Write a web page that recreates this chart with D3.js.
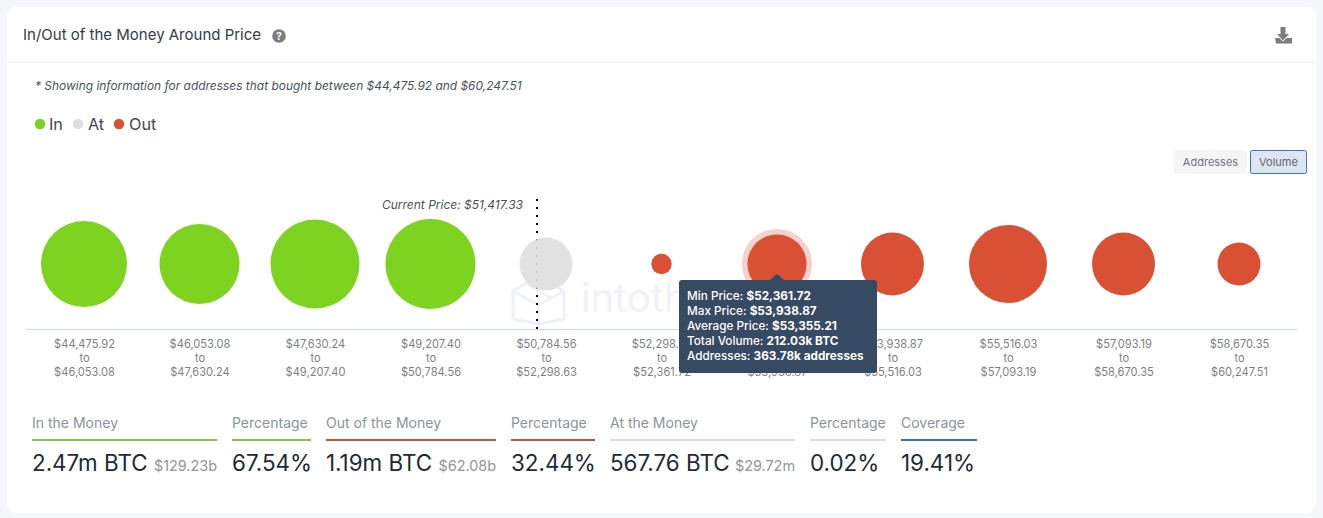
<!DOCTYPE html>
<html><head><meta charset="utf-8">
<script src="https://cdn.jsdelivr.net/npm/d3@7"></script>
<style>
html,body{margin:0;padding:0;background:#f5f7fb;overflow:hidden}
svg{display:block;font-family:Inter,"Noto Sans",sans-serif}
</style></head><body>
<svg id="c" width="1323" height="518"></svg>
<script>
const rangeEdges = ["$44,475.92","$46,053.08","$47,630.24","$49,207.40","$50,784.56","$52,298.63","$52,361.72","$53,938.87","$55,516.03","$57,093.19","$58,670.35","$60,247.51"];
const volumes = [599,490,659,680,156,11,212,252,457,252,87];
const states = ["in","in","in","in","at","out","out","out","out","out","out"];
const stateColors = {in:"#7ed321",at:"#dfdfdf",out:"#d95035"};
const legendLabels = [["In","in"],["At","at"],["Out","out"]];
const currentPrice = 51417.33;
const tooltipRows = [["Min Price: ","$52,361.72"],["Max Price: ","$53,938.87"],["Average Price: ","$53,355.21"],["Total Volume: ","212.03k BTC"],["Addresses: ","363.78k addresses"]];
const statTitles = ["In the Money","Percentage","Out of the Money","Percentage","At the Money","Percentage","Coverage"];
const statValues = ["2.47m BTC","67.54%","1.19m BTC","32.44%","567.76 BTC","0.02%","19.41%"];
const statSubs = ["$129.23b","","$62.08b","","$29.72m","",""];
const statColors = ["#8bc34a","#8bc34a","#b9573f","#b9573f","#dcdcdc","#dcdcdc","#3f6fc0"];
const statLefts = [32,232,326,511,610,810,901];
const statRights = [217,311,496,595,795,886,977];

const svg = d3.select("#c");
const categories = volumes.map((d,i)=>i);
const x = d3.scalePoint().domain(categories).range([84,1239]);
const r = d3.scalePow().exponent(0.36).domain([0,680]).range([0,45]);
const cy = 264, axisY = 329.5;

// card
svg.append("rect").attr("x",7).attr("y",7).attr("width",1309).attr("height",506).attr("rx",9).attr("fill","#fff");
svg.append("line").attr("x1",7).attr("x2",1316).attr("y1",62.5).attr("y2",62.5).attr("stroke","#eef0f3");

// header
svg.append("text").attr("x",23).attr("y",39.5).attr("font-size",15).attr("font-weight",400).attr("fill","#333c46").text("In/Out of the Money Around Price");
svg.append("circle").attr("cx",279).attr("cy",36).attr("r",6.8).attr("fill","#7d7d7d");
svg.append("text").attr("x",279).attr("y",40).attr("text-anchor","middle").attr("font-size",10.5).attr("font-weight",700).attr("fill","#fff").text("?");
svg.append("path").attr("fill","#7d7d7d")
  .attr("d","M1280.5 27h5v7h3.5l-6 6.5-6-6.5h3.5zM1275 38h4.5l3.5 3.5 3.5-3.5h5.5v5.5h-16z");
svg.append("text").attr("x",35).attr("y",90).attr("font-size",11.95).attr("font-style","italic").attr("fill","#4a525b")
  .text("* Showing information for addresses that bought between $44,475.92 and $60,247.51");

// legend
const legendDot=[40,78,119], legendText=[49,88,129];
legendLabels.forEach((l,i)=>{
  svg.append("circle").attr("cx",legendDot[i]).attr("cy",124).attr("r",5.2).attr("fill",stateColors[l[1]]);
  svg.append("text").attr("x",legendText[i]).attr("y",129.5).attr("font-size",16.2).attr("fill","#3f4852").text(l[0]);
});

// buttons
svg.append("rect").attr("x",1174).attr("y",150).attr("width",73).attr("height",24).attr("rx",2).attr("fill","#f5f5f5");
svg.append("text").attr("x",1210.5).attr("y",166).attr("text-anchor","middle").attr("font-size",11).attr("fill","#6d747c").text("Addresses");
svg.append("rect").attr("x",1250.5).attr("y",150.5).attr("width",56).attr("height",23).attr("rx",2).attr("fill","#dde5f3").attr("stroke","#3f72c4");
svg.append("text").attr("x",1278.5).attr("y",166).attr("text-anchor","middle").attr("font-size",11).attr("fill","#5f6770").text("Volume");

// watermark
const wm = svg.append("g").attr("fill","none").attr("stroke","#eef1f5").attr("stroke-width",3);
wm.append("path").attr("d","M538 276L564 291V319L538 324L513 319V291ZM513 291L538 305L564 291M538 305V324M526 283L551 298");
svg.append("text").attr("x",581).attr("y",312).attr("font-size",40).attr("fill","#f0f2f6").text("intotheblock");

// axis
const axis = d3.axisBottom(x).tickSize(0).tickPadding(0).tickFormat(()=>"");
const ag = svg.append("g").attr("transform",`translate(0,${axisY})`).call(axis);
ag.select(".domain").remove();
ag.append("line").attr("x1",27).attr("x2",1297).attr("stroke","#c9dcdf");
ag.selectAll(".tick text").each(function(d){
  const t=d3.select(this).text(null).attr("y",0).attr("dy",null).attr("font-size",11.1).attr("fill","#7b7f84").attr("font-family","Inter");
  [rangeEdges[d],"to",rangeEdges[d+1]].forEach((s,i)=>t.append("tspan").attr("x",0).attr("y",18.5+i*14).text(s));
});

// current price marker
const priceX = 537;
svg.append("line").attr("x1",priceX).attr("x2",priceX).attr("y1",199).attr("y2",axisY)
  .attr("stroke","#000").attr("stroke-width",2).attr("stroke-dasharray","2 6");
svg.append("text").attr("x",523).attr("y",208.5).attr("text-anchor","end").attr("font-size",12).attr("font-style","italic").attr("fill","#4a525b")
  .text("Current Price: $"+d3.format(",.2f")(currentPrice));

// hover halo + bubbles
svg.append("circle").attr("cx",x(6)).attr("cy",cy).attr("r",r(volumes[6])+5.5).attr("fill","#d95035").attr("opacity",.25);
svg.selectAll("circle.b").data(volumes).join("circle").attr("class","b")
  .attr("cx",(d,i)=>x(i)).attr("cy",cy).attr("r",d=>r(d))
  .attr("fill",(d,i)=>stateColors[states[i]]).attr("fill-opacity",(d,i)=>states[i]==="at"?.92:1);

// tooltip
const tt = svg.append("g");
tt.append("path").attr("fill","#364a63").attr("d",`M${x(6)-7} 280L${x(6)} 274L${x(6)+7} 280Z`);
tt.append("rect").attr("x",679).attr("y",280).attr("width",198).attr("height",93).attr("rx",3).attr("fill","#364a63");
tooltipRows.forEach((row,i)=>{
  const t=tt.append("text").attr("x",687).attr("y",300+i*15).attr("font-size",11.75).attr("fill","#fff");
  t.append("tspan").attr("font-weight",500).text(row[0]);
  t.append("tspan").attr("font-weight",700).text(row[1]);
});

// stats
statTitles.forEach((s,i)=>{
  const L=statLefts[i],R=statRights[i];
  svg.append("text").attr("x",L).attr("y",428).attr("font-size",14).attr("fill","#8a949c").text(s);
  svg.append("line").attr("x1",L).attr("x2",R).attr("y1",440).attr("y2",440).attr("stroke",statColors[i]).attr("stroke-width",2);
  svg.append("text").attr("x",L).attr("y",471).attr("font-size",22.4).attr("fill","#1f2a35").text(statValues[i]);
  if(statSubs[i]) svg.append("text").attr("x",R).attr("y",471).attr("text-anchor","end").attr("font-size",14.4).attr("fill","#8f969c").text(statSubs[i]);
});
</script>
</body></html>
